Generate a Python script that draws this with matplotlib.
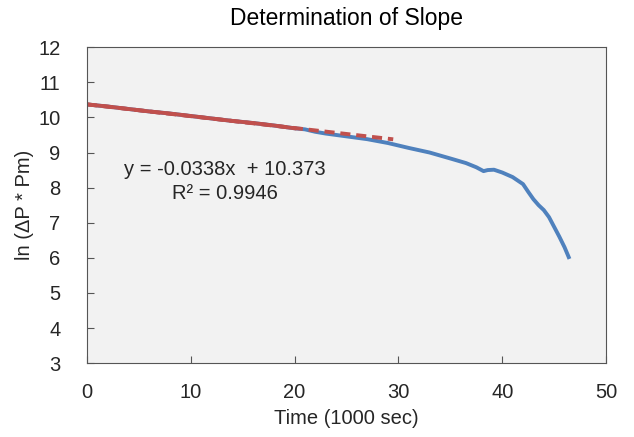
import numpy as np
import matplotlib.pyplot as plt

plt.rcParams["font.family"] = ["Liberation Sans", "DejaVu Sans"]

# measured data (time in 1000 sec, ln(dP * Pm))
time = np.array([0, 2, 4, 6, 8, 10, 12, 14, 16, 18, 20, 21, 22, 23, 25, 27, 29,
                 31, 33, 35, 36.5, 37.5, 38.2, 38.6, 39.2, 40, 41, 42, 42.5, 43,
                 43.5, 44, 44.5, 45, 45.5, 46, 46.4])
ln_val = np.array([10.37, 10.31, 10.24, 10.17, 10.11, 10.04, 9.97, 9.90, 9.84,
                   9.77, 9.69, 9.66, 9.59, 9.54, 9.46, 9.38, 9.27, 9.13, 9.00,
                   8.83, 8.70, 8.58, 8.47, 8.50, 8.51, 8.43, 8.30, 8.10, 7.88,
                   7.67, 7.50, 7.36, 7.16, 6.88, 6.60, 6.30, 6.02])

# early part used for the fit
fit_end = 20
slope = -0.0338
intercept = 10.373
r2 = 0.9946
forecast_end = 29.5

fig, ax = plt.subplots(figsize=(6.34, 4.37), dpi=100)
fig.subplots_adjust(left=0.137, right=0.956, top=0.892, bottom=0.169)
ax.set_facecolor("#F2F2F2")

ax.plot(time, ln_val, color="#4F81BD", lw=2.8)

mask = time <= fit_end
ax.plot(time[mask], ln_val[mask], color="#C0504D", lw=2.8)

x_fit = np.array([0, forecast_end])
ax.plot(x_fit, slope * x_fit + intercept, color="#C0504D", lw=2.8,
        linestyle=(0, (2.6, 1.5)))

ax.text(13.3, 8.52, "y = -0.0338x  + 10.373", ha="center", va="center",
        fontsize=14.5, color="#262626")
ax.text(13.3, 7.84, "R² = %.4f" % r2, ha="center", va="center",
        fontsize=14.5, color="#262626")

ax.set_xlim(0, 50)
ax.set_ylim(3, 12)
ax.set_xticks(range(0, 51, 10))
ax.set_yticks(range(3, 13))
ax.tick_params(direction="in", length=5, labelsize=14.5, colors="#262626",
               color="#555555")
ax.tick_params(axis="y", pad=19)
ax.tick_params(axis="x", pad=14)
for s in ax.spines.values():
    s.set_color("#555555")

ax.set_title("Determination of Slope", fontsize=16.5, pad=16)
ax.set_xlabel("Time (1000 sec)", fontsize=14.5, color="#262626", labelpad=5)
ax.set_ylabel("ln (ΔP * Pm)", fontsize=14.5, color="#262626", labelpad=3)

plt.savefig("out.png")
